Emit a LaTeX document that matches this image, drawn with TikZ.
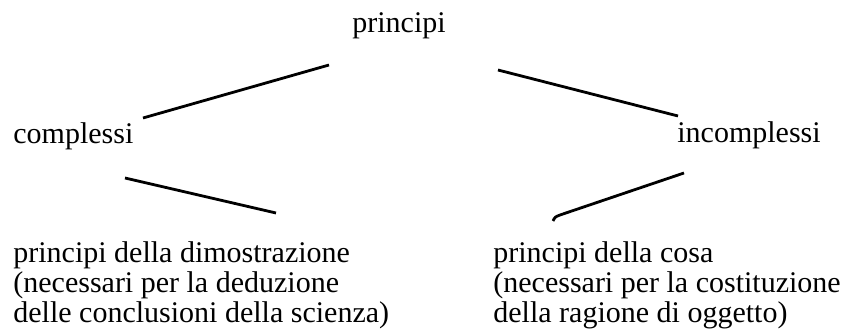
\documentclass[tikz,border=0pt]{standalone}
\usepackage{fontspec}
\setmainfont{Liberation Serif}
\usepackage{tikz}

\begin{document}
\begin{tikzpicture}[x=0.5pt,y=-0.5pt]
\tikzset{
  voce/.style={anchor=base west, inner sep=0pt, align=left,
    font=\fontsize{15}{15}\selectfont},
  ramo/.style={line width=1.4pt}
}
\useasboundingbox (0,0) rectangle (848,336);

% the terms (multi-line ones sit on their last baseline)
\node[voce] (princ) at (352,33) {principi};
\node[voce] (compl) at (13,144) {complessi};
\node[voce] (incompl) at (677,143) {incomplessi};
\node[voce] (dimo) at (13,323) {principi della dimostrazione\\(necessari per la deduzione\\delle conclusioni della scienza)};
\node[voce] (cosa) at (493,323) {principi della cosa\\(necessari per la costituzione\\della ragione di oggetto)};

% free ends of the branches
\coordinate (a1) at (329,65);  \coordinate (a2) at (143,118);
\coordinate (b1) at (498,70);  \coordinate (b2) at (678,116);
\coordinate (c1) at (125,178); \coordinate (c2) at (276,213);
\coordinate (d1) at (684,173); \coordinate (d2) at (560,215);
\coordinate (d3) at (553,221);

\foreach \s/\e in {a1/a2, b1/b2, c1/c2}
  \draw[ramo] (\s) -- (\e);
\draw[ramo] (d1) -- (d2) .. controls (555,217) .. (d3);
\end{tikzpicture}
\end{document}
